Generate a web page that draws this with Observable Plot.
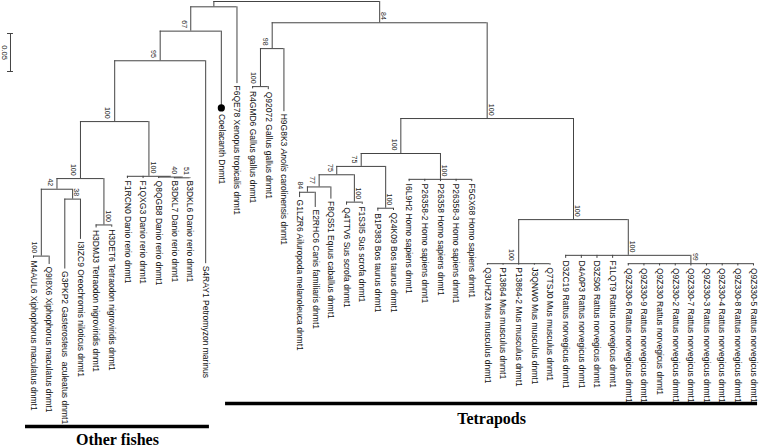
<!DOCTYPE html>
<html><head><meta charset="utf-8">
<script src="https://cdn.jsdelivr.net/npm/d3@7"></script>
<script src="https://cdn.jsdelivr.net/npm/@observablehq/plot@0.6"></script>
<style>body{margin:0;background:#fff}svg{display:block}</style>
</head><body><div id="chart"></div>
<script>
// ---- Tree data: node id, parent id, branch length (substitutions/site), bootstrap ----
const nodeIds = [
  "root", "A", "B", "C", "D", "E", "F", "G",
  "M4AUL6 Xiphophorus maculatus dnmt1", "Q9I8X6 Xiphophorus maculatus dnmt1",
  "H", "G3PKP2 Gasterosteus  aculeatus dnmt1", "I3IZC9 Oreochromis niloticus dnmt1",
  "J", "H3DMJ3 Tetraodon nigroviridis dnmt1", "H3DET6 Tetraodon nigroviridis dnmt1",
  "K", "F1RCN0 Danio rerio dnmt1", "F1QXG3 Danio rerio dnmt1",
  "L", "Q8QGB8 Danio rerio dnmt1", "M", "B3DKL7 Danio rerio dnmt1", "B3DKL6 Danio rerio dnmt1",
  "S4RAY1 Petromyzon marinus", "Coelacanth Dnmt1", "F6QE78 Xenopus tropicalis dnmt1",
  "T", "U", "V", "R4GMD6 Gallus gallus dnmt1", "Q92072 Gallus gallus dnmt1",
  "H9G8K3 Anolis carolinensis dnmt1",
  "W", "X", "Y", "Z", "N77", "N84",
  "G1LZR6 Ailuropoda melanoleuca dnmt1", "E2RHC6 Canis familiaris dnmt1", "F8QS51 Equus caballus dnmt1",
  "Ss", "Q4TTV6 Sus scrofa dnmt1", "F1S3I5 Sus scrofa dnmt1",
  "Bt", "B1P383 Bos taurus dnmt1", "Q24K09 Bos taurus dnmt1",
  "Hs", "I6L9H2 Homo sapiens dnmt1", "P26358-2 Homo sapiens dnmt1", "P26358 Homo sapiens dnmt1",
  "P26358-3 Homo sapiens dnmt1", "F5GX68 Homo sapiens dnmt1",
  "Q", "Mm", "Q3UHZ3 Mus musculus dnmt1", "P13864 Mus musculus dnmt1", "P13864-2 Mus musculus dnmt1",
  "J3QNW0 Mus musculus dnmt1", "Q7TSJ0 Mus musculus dnmt1",
  "Rn", "D3ZC19 Rattus norvegicus dnmt1", "D4A0P3 Rattus norvegicus dnmt1",
  "D3ZS06 Rattus norvegicus dnmt1", "F1LQT9 Rattus norvegicus dnmt1",
  "N99", "Q9Z330-6 Rattus norvegicus dnmt1", "Q9Z330-9 Rattus norvegicus dnmt1",
  "Q9Z330 Rattus norvegicus dnmt1", "Q9Z330-2 Rattus norvegicus dnmt1", "Q9Z330-7 Rattus norvegicus dnmt1",
  "Q9Z330-3 Rattus norvegicus dnmt1", "Q9Z330-4 Rattus norvegicus dnmt1", "Q9Z330-8 Rattus norvegicus dnmt1",
  "Q9Z330-5 Rattus norvegicus dnmt1"
];
const parentIds = [
  null, "root", "A", "B", "C", "D", "E", "F",
  "G", "G",
  "F", "H", "H",
  "E", "J", "J",
  "D", "K", "K",
  "K", "L", "L", "M", "M",
  "C", "B", "A",
  "root", "T", "U", "V", "V",
  "U",
  "T", "W", "X", "Y", "Z", "N77",
  "N84", "N84", "N77",
  "Z", "Ss", "Ss",
  "Y", "Bt", "Bt",
  "X", "Hs", "Hs", "Hs",
  "Hs", "Hs",
  "W", "Q", "Mm", "Mm", "Mm",
  "Mm", "Mm",
  "Q", "Rn", "Rn",
  "Rn", "Rn",
  "Rn", "N99", "N99",
  "N99", "N99", "N99",
  "N99", "N99", "N99",
  "N99"
];
const branchLengths = [
  0, 0.007, 0.032, 0.039, 0.080, 0.075, 0.014, 0.088,
  0.003, 0.011,
  0.013, 0.092, 0.053,
  0.061, 0.004, 0.003,
  0.072, 0.003, 0.003,
  0.001, 0.002, 0.001, 0.001, 0.001,
  0.267, 0.101, 0.101,
  0.028, 0.034, 0.050, 0.003, 0.004,
  0.083,
  0.126, 0.046, 0.017, 0.011, 0.016, 0.007,
  0.007, 0.020, 0.016,
  0.036, 0.004, 0.003,
  0.055, 0.004, 0.003,
  0.034, 0.003, 0.003, 0.003,
  0.003, 0.003,
  0.133, 0.058, 0.002, 0.002, 0.002,
  0.002, 0.002,
  0.047, 0.004, 0.004,
  0.004, 0.004,
  0.011, 0.003, 0.003,
  0.003, 0.003, 0.003,
  0.003, 0.003, 0.003,
  0.003
];
const bootstrap = [
  null, null, 67, 95, 100, 100, 42, 100,
  null, null,
  38, null, null,
  100, null, null,
  100, null, null,
  40, null, 51, null, null,
  null, null, null,
  84, 98, 100, null, null,
  null,
  100, 100, 75, 75, 77, 84,
  null, null, null,
  100, null, null,
  100, null, null,
  100, null, null, null,
  null, null,
  100, 100, null, null, null,
  null, null,
  100, null, null,
  null, null,
  99, null, null,
  null, null, null,
  null, null, null,
  null
];
const markedLeaves = ["Coelacanth Dnmt1"];
const italicWords = ["Anolis"];

// ---- Group annotations (extent in leaf-order units) ----
const groupNames = ["Other fishes", "Tetrapods"];
const groupStart = [-0.51, 12.27];
const groupEnd = [11.24, 46.26];
const scaleBarValue = 0.05;

// ---- Layout ----
const rows = nodeIds.map((id, i) => ({id, parent: parentIds[i], len: branchLengths[i], boot: bootstrap[i]}));
const root = d3.stratify().id(d => d.id).parentId(d => d.parent)(rows);
root.eachBefore(n => { n.dep = n.parent ? n.parent.dep + n.data.len : 0; });
root.leaves().forEach((l, i) => { l.xi = i; });
root.eachAfter(n => { if (n.children) n.xi = (n.children[0].xi + n.children[n.children.length - 1].xi) / 2; });

const all = root.descendants();
const stems = all.filter(n => n.parent).map(n => ({x: n.xi, y1: n.parent.dep, y2: n.dep}));
const bars = all.filter(n => n.children).map(n => ({x1: n.children[0].xi, x2: n.children[n.children.length - 1].xi, y: n.dep}));
const leafRows = root.leaves().map(n => ({x: n.xi, y: n.dep, name: n.data.id, marked: markedLeaves.includes(n.data.id)}));
const supRows = all.filter(n => n.data.boot != null).map(n => ({
  x: n.xi, y: n.dep, text: String(n.data.boot),
  left: n.parent && n.parent.children[0] === n
}));
const groups = groupNames.map((g, i) => ({name: g, x1: groupStart[i], x2: groupEnd[i], xm: (groupStart[i] + groupEnd[i]) / 2}));

const W = 760, H = 447;
const pxPerUnit = 760;
const yMax = (H - 1) / pxPerUnit;
const font = "Liberation Sans, Arial, Helvetica, sans-serif";
const lineColor = "#444";

const sbTop = 32 / pxPerUnit;
const sbX = -1.47;

const chart = Plot.plot({
  width: W, height: H,
  marginLeft: 33, marginRight: 7, marginTop: 1, marginBottom: 0,
  x: {domain: [0, 46], axis: null},
  y: {domain: [0, yMax], range: [1, H], axis: null},
  style: {fontFamily: font, background: "#fff"},
  marks: [
    Plot.ruleX(stems, {x: "x", y1: "y1", y2: "y2", stroke: lineColor, strokeWidth: 1}),
    Plot.ruleY(bars, {y: "y", x1: "x1", x2: "x2", stroke: lineColor, strokeWidth: 1}),
    Plot.dot(leafRows.filter(d => d.marked), {x: "x", y: "y", r: 3.6, fill: "#000", stroke: "none"}),
    Plot.text(leafRows.filter(d => !d.marked), {x: "x", y: "y", text: "name", rotate: 90, textAnchor: "start", lineAnchor: "middle", dy: 2, fontSize: 8.5, fill: "#111"}),
    Plot.text(leafRows.filter(d => d.marked), {x: "x", y: "y", text: "name", rotate: 90, textAnchor: "start", lineAnchor: "middle", dy: 6, fontSize: 8.5, fill: "#111"}),
    Plot.text(supRows.filter(d => d.left), {x: "x", y: "y", text: "text", rotate: 90, textAnchor: "end", lineAnchor: "middle", dx: -7, dy: -3, fontSize: 7, fill: "#222"}),
    Plot.text(supRows.filter(d => !d.left), {x: "x", y: "y", text: "text", rotate: 90, textAnchor: "end", lineAnchor: "middle", dx: 4, dy: -3, fontSize: 7, fill: "#222"}),
    // scale bar
    Plot.ruleX([scaleBarValue], {x: sbX, y1: sbTop, y2: d => sbTop + d, stroke: lineColor, strokeWidth: 1}),
    Plot.ruleY([sbTop, sbTop + scaleBarValue], {y: d => d, x1: sbX - 0.19, x2: sbX + 0.19, stroke: lineColor, strokeWidth: 1}),
    Plot.text([scaleBarValue], {x: sbX - 0.38, y: d => sbTop + d / 2, text: d => d.toFixed(2), rotate: 90, textAnchor: "middle", lineAnchor: "middle", fontSize: 7.5, fill: "#222"}),
    // groups
    Plot.ruleY(groups.slice(0, 1), {y: (426 - 1) / pxPerUnit, x1: "x1", x2: "x2", stroke: "#000", strokeWidth: 3.5}),
    Plot.ruleY(groups.slice(1), {y: (403 - 1) / pxPerUnit, x1: "x1", x2: "x2", stroke: "#000", strokeWidth: 3.5}),
    Plot.text(groups.slice(0, 1), {x: "xm", y: (444 - 1) / pxPerUnit, text: "name", lineAnchor: "bottom", fontFamily: "Liberation Serif, Times New Roman, serif", fontWeight: "bold", fontSize: 16, fill: "#000"}),
    Plot.text(groups.slice(1), {x: "xm", y: (423 - 1) / pxPerUnit, text: "name", lineAnchor: "bottom", fontFamily: "Liberation Serif, Times New Roman, serif", fontWeight: "bold", fontSize: 16, fill: "#000"})
  ]
});

// italicize genus names where the reference does
chart.querySelectorAll("text").forEach(t => {
  const s = t.textContent;
  for (const w of italicWords) {
    const i = s.indexOf(w);
    if (i >= 0) {
      t.textContent = "";
      const parts = [[s.slice(0, i), false], [w, true], [s.slice(i + w.length), false]];
      for (const [str, it] of parts) {
        const ts = document.createElementNS("http://www.w3.org/2000/svg", "tspan");
        ts.textContent = str;
        if (it) ts.setAttribute("font-style", "italic");
        t.appendChild(ts);
      }
    }
  }
});
document.getElementById("chart").appendChild(chart);
</script>
</body></html>
